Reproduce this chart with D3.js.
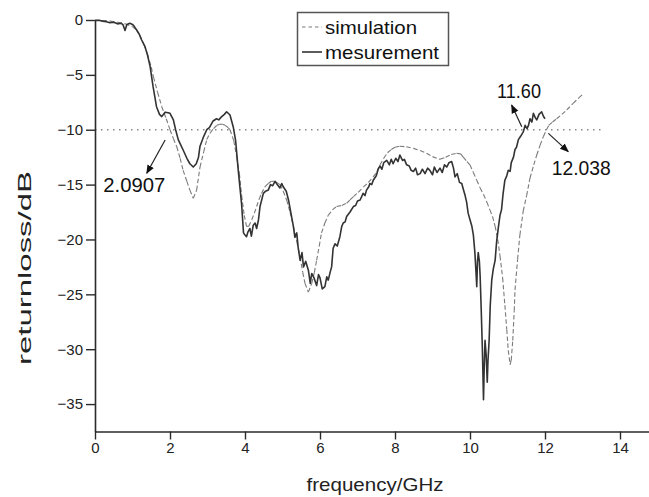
<!DOCTYPE html>
<html><head><meta charset="utf-8">
<script src="https://cdn.jsdelivr.net/npm/d3@7"></script>
<style>body{margin:0;background:#fff}svg{display:block;font-family:"Liberation Sans",Arial,sans-serif}</style>
</head><body><svg id="c" width="649" height="497"></svg>
<script>
const simFreq = [0,0.2,0.4,0.6,0.8,1.0,1.1,1.2,1.3,1.4,1.5,1.56,1.67,1.78,1.9,2.0,2.09,2.18,2.27,2.35,2.45,2.53,2.62,2.71,2.8,2.9,2.98,3.07,3.16,3.25,3.33,3.4,3.47,3.55,3.6,3.7,3.78,3.85,3.91,3.98,4.04,4.1,4.18,4.25,4.31,4.38,4.44,4.53,4.62,4.7,4.76,4.85,4.93,5.02,5.11,5.2,5.29,5.38,5.47,5.54,5.6,5.69,5.78,5.85,5.91,5.98,6.04,6.13,6.22,6.33,6.44,6.58,6.71,6.8,6.89,7.02,7.16,7.29,7.42,7.52,7.6,7.7,7.8,7.9,8.0,8.13,8.3,8.49,8.67,8.84,9.0,9.2,9.35,9.5,9.64,9.75,9.82,9.92,10.0,10.09,10.18,10.27,10.36,10.45,10.53,10.6,10.67,10.74,10.8,10.87,10.93,10.98,11.02,11.07,11.1,11.14,11.18,11.2,11.27,11.33,11.42,11.51,11.6,11.7,11.78,11.87,11.96,12.04,12.1,12.2,12.31,12.45,12.58,12.75,12.9,13.0];
const simDB = [0,-0.05,-0.1,-0.2,-0.35,-0.6,-0.9,-1.4,-2.2,-3.1,-4.3,-5.2,-6.6,-7.9,-9.0,-10.0,-10.8,-11.55,-12.6,-13.7,-14.7,-15.5,-16.25,-15.5,-13.4,-12.0,-10.9,-10.3,-9.9,-9.6,-9.5,-9.5,-9.6,-9.8,-10.0,-11.0,-12.5,-14.0,-16.0,-17.8,-18.8,-18.8,-18.2,-17.6,-17.0,-16.3,-15.8,-15.2,-14.9,-14.7,-14.7,-14.8,-15.0,-15.6,-16.4,-17.5,-18.8,-20.2,-21.6,-23.0,-24.0,-24.8,-24.0,-23.0,-21.9,-20.6,-19.4,-18.5,-17.8,-17.3,-17.0,-16.9,-16.7,-16.4,-16.1,-15.7,-15.2,-14.8,-14.3,-13.8,-13.2,-12.6,-12.1,-11.8,-11.6,-11.5,-11.55,-11.7,-11.9,-12.15,-12.45,-12.7,-12.5,-12.25,-12.15,-12.2,-12.5,-12.9,-13.2,-13.9,-14.6,-15.3,-15.9,-16.6,-17.3,-17.9,-18.8,-20.0,-21.5,-23.5,-26.0,-28.2,-30.1,-31.4,-31.0,-29.2,-26.5,-24.6,-21.8,-19.6,-17.4,-16.0,-14.4,-13.2,-12.3,-11.4,-10.6,-10.0,-9.6,-9.3,-9.0,-8.6,-8.2,-7.6,-7.1,-6.8];
const measFreq = [0,0.1,0.2,0.3,0.4,0.5,0.6,0.7,0.75,0.8,0.85,0.93,1.0,1.05,1.11,1.18,1.24,1.33,1.4,1.47,1.55,1.64,1.72,1.78,1.87,1.95,2.0,2.09,2.15,2.22,2.35,2.45,2.53,2.62,2.7,2.76,2.8,2.9,2.98,3.05,3.15,3.24,3.3,3.38,3.45,3.51,3.6,3.69,3.75,3.82,3.91,3.96,4.0,4.04,4.08,4.13,4.17,4.22,4.27,4.31,4.36,4.4,4.49,4.55,4.62,4.68,4.74,4.8,4.86,4.93,4.98,5.02,5.1,5.16,5.22,5.29,5.33,5.38,5.42,5.47,5.52,5.56,5.62,5.69,5.74,5.78,5.84,5.91,5.96,6.0,6.06,6.13,6.18,6.22,6.27,6.31,6.35,6.4,6.46,6.53,6.58,6.62,6.67,6.71,6.8,6.89,6.95,7.0,7.07,7.15,7.2,7.24,7.3,7.33,7.38,7.42,7.5,7.55,7.6,7.65,7.7,7.78,7.85,7.9,7.95,8.02,8.08,8.13,8.2,8.25,8.31,8.38,8.43,8.49,8.55,8.6,8.67,8.73,8.8,8.87,8.93,9.0,9.05,9.12,9.2,9.26,9.32,9.38,9.44,9.51,9.56,9.6,9.66,9.72,9.78,9.82,9.87,9.91,9.95,10.0,10.05,10.09,10.13,10.16,10.18,10.2,10.22,10.25,10.27,10.3,10.33,10.36,10.38,10.4,10.43,10.46,10.48,10.51,10.54,10.58,10.62,10.67,10.71,10.76,10.8,10.84,10.88,10.93,10.98,11.02,11.07,11.1,11.16,11.2,11.24,11.29,11.35,11.42,11.47,11.52,11.56,11.6,11.65,11.69,11.74,11.78,11.84,11.91,11.96,12.0];
const measDB = [-0.05,-0.02,-0.1,-0.15,-0.25,-0.2,-0.35,-0.3,-0.45,-0.95,-0.4,-0.3,-0.4,-0.6,-0.9,-1.3,-1.8,-2.4,-3.2,-4.25,-6.1,-7.9,-8.6,-8.8,-8.4,-8.45,-8.5,-9.1,-10.0,-10.9,-11.85,-12.6,-13.1,-13.4,-13.1,-12.5,-11.5,-10.6,-10.0,-9.8,-9.2,-9.0,-9.1,-8.8,-8.6,-8.36,-8.66,-9.8,-11.0,-13.7,-16.8,-19.4,-19.6,-19.75,-19.3,-19.0,-19.7,-18.7,-18.5,-19.0,-18.2,-17.0,-15.8,-15.6,-15.5,-15.0,-15.1,-14.7,-15.0,-15.3,-14.9,-15.2,-15.6,-16.4,-17.5,-18.8,-19.8,-19.4,-20.8,-21.9,-21.2,-22.5,-22.0,-22.8,-24.0,-23.1,-23.5,-24.2,-23.2,-23.5,-24.5,-24.3,-23.4,-23.7,-23.0,-22.5,-20.8,-20.4,-20.6,-19.75,-18.8,-18.5,-18.4,-17.9,-17.5,-17.0,-16.9,-16.5,-16.4,-15.8,-16.0,-15.5,-15.2,-14.9,-15.0,-14.6,-14.2,-13.6,-13.3,-13.6,-13.0,-12.8,-13.2,-12.7,-13.1,-12.6,-12.9,-12.3,-12.8,-12.7,-13.2,-13.3,-13.7,-13.8,-13.5,-14.1,-14.0,-13.6,-14.0,-13.5,-13.7,-14.1,-13.4,-13.9,-13.5,-13.9,-13.2,-13.4,-13.0,-12.9,-13.5,-14.3,-14.0,-14.8,-14.9,-15.4,-16.0,-16.6,-17.6,-18.2,-18.8,-19.6,-21.2,-23.0,-24.3,-22.0,-21.2,-22.0,-23.3,-26.5,-30.0,-34.6,-31.5,-29.2,-30.5,-33.0,-31.0,-29.2,-26.0,-23.7,-22.7,-21.9,-20.2,-18.8,-17.8,-17.3,-15.9,-14.6,-14.2,-13.7,-13.8,-13.0,-12.5,-11.8,-11.6,-10.9,-10.6,-10.2,-9.6,-9.9,-9.6,-9.0,-9.3,-8.5,-8.9,-9.1,-8.6,-8.36,-8.8,-9.0];
const xTicks = [0,2,4,6,8,10,12,14];
const yTicks = [0,-5,-10,-15,-20,-25,-30,-35];
const seriesNames = ["simulation","mesurement"];
const refLevel = -10;
const annotations = [
  {label:"2.0907", from:[1.87,-10.94], to:[1.38,-13.97], text:[0.22,-15.65], len:62},
  {label:"11.60", from:[11.38,-9.73], to:[11.11,-7.75], text:[10.72,-7.11], len:44},
  {label:"12.038", from:[12.09,-10.33], to:[12.62,-12.0], text:[12.18,-14.13], len:59}
];

const svg = d3.select("#c");
const x = d3.scaleLinear().domain([0,15]).range([95,657.5]);
const y = d3.scaleLinear().domain([-37.5,0]).range([431.5,20]);
const axisColor = "#2a2a2a";
const simColor = "#7a7a7a";

svg.append("defs").append("marker").attr("id","ah").attr("viewBox","0 0 10 10")
  .attr("refX",9).attr("refY",5).attr("markerWidth",9).attr("markerHeight",9)
  .attr("markerUnits","userSpaceOnUse").attr("orient","auto")
  .append("path").attr("d","M0,1 L10,5 L0,9 Z").attr("fill","#111");

// reference -10 line
svg.append("line").attr("x1",x(0)).attr("x2",x(13.5)).attr("y1",y(refLevel)).attr("y2",y(refLevel))
  .attr("stroke","#888").attr("stroke-width",1.3).attr("stroke-dasharray","1.5,4.5");

// axes
const xMinor = d3.range(1,16,2);
const yMinor = d3.range(-2.5,-38,-5);
const gx = svg.append("g").attr("transform",`translate(0,${y(-37.5)})`);
gx.call(d3.axisBottom(x).tickValues(xMinor).tickSize(4).tickFormat(""));
gx.call(d3.axisBottom(x).tickValues(xTicks).tickSize(8).tickSizeOuter(0).tickPadding(3).tickFormat(d3.format("d")));
const gy = svg.append("g").attr("transform",`translate(${x(0)},0)`);
gy.call(d3.axisLeft(y).tickValues(yMinor).tickSize(5).tickFormat(""));
gy.call(d3.axisLeft(y).tickValues(yTicks).tickSize(9).tickSizeOuter(0).tickPadding(3).tickFormat(d3.format("d")));
svg.selectAll(".domain").attr("stroke",axisColor).attr("stroke-width",1.6);
svg.selectAll(".tick line").attr("stroke",axisColor).attr("stroke-width",1.4);
svg.selectAll(".tick text").attr("font-size",15).attr("fill","#222").attr("font-family","Liberation Sans, Arial, sans-serif");

// axis titles
svg.append("text").attr("x",375).attr("y",491).attr("text-anchor","middle").attr("font-size",19)
  .attr("fill","#222").attr("textLength",137).attr("lengthAdjust","spacingAndGlyphs").text("frequency/GHz");
svg.append("text").attr("transform","translate(31,268) rotate(-90)").attr("text-anchor","middle").attr("font-size",18)
  .attr("fill","#222").attr("textLength",194).attr("lengthAdjust","spacingAndGlyphs").text("returnloss/dB");

// curves
const line = d3.line().x(d=>x(d[0])).y(d=>y(d[1]));
const sim = simFreq.map((f,i)=>[f,simDB[i]]);
const meas = measFreq.map((f,i)=>[f,measDB[i]]);
// simulation drawn segment by segment so the dash pattern restarts at each point
const simSegs = d3.pairs(sim);
svg.append("g").selectAll("path").data(simSegs).join("path")
  .attr("d",d=>line(d)).attr("fill","none")
  .attr("stroke",simColor).attr("stroke-width",1.1).attr("stroke-dasharray","4.5,2.5");
svg.append("path").attr("d",line(meas)).attr("fill","none")
  .attr("stroke","#333").attr("stroke-width",1.6).attr("stroke-linejoin","round");

// annotations
annotations.forEach(a=>{
  svg.append("line").attr("x1",x(a.from[0])).attr("y1",y(a.from[1])).attr("x2",x(a.to[0])).attr("y2",y(a.to[1]))
    .attr("stroke","#222").attr("stroke-width",1.2).attr("marker-end","url(#ah)");
  svg.append("text").attr("x",x(a.text[0])).attr("y",y(a.text[1])).attr("font-size",20).attr("fill","#111")
    .attr("textLength",a.len).attr("lengthAdjust","spacingAndGlyphs").text(a.label);
});

// legend
const lg = svg.append("g");
lg.append("rect").attr("x",297.5).attr("y",12.5).attr("width",151).attr("height",53)
  .attr("fill","#fff").attr("stroke","#555").attr("stroke-width",1.5);
[[27,"3.5,3",simColor,1.1],[52,null,"#333",1.6]].forEach((s,i)=>{
  const l = lg.append("line").attr("x1",302).attr("x2",322).attr("y1",s[0]).attr("y2",s[0])
    .attr("stroke",s[2]).attr("stroke-width",s[3]);
  if(s[1]) l.attr("stroke-dasharray",s[1]);
  lg.append("text").attr("x",325).attr("y",s[0]+6.5).attr("font-size",19).attr("fill","#111")
    .attr("textLength",i===0?92:114).attr("lengthAdjust","spacingAndGlyphs").text(seriesNames[i]);
});
</script></body></html>
